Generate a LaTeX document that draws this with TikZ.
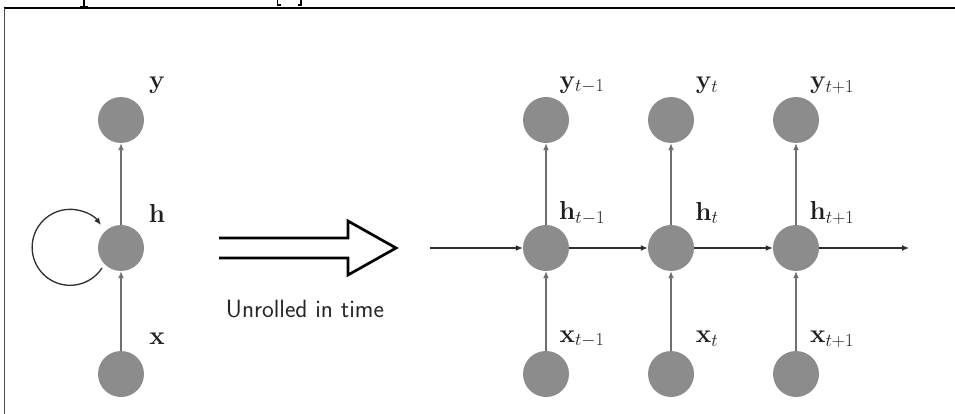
\RequirePackage{fix-cm}
\documentclass[tikz,border=0pt]{standalone}
\usetikzlibrary{arrows.meta}
\definecolor{unitgray}{RGB}{140,140,140}
\definecolor{linkgray}{RGB}{112,112,112}
\definecolor{flowdark}{RGB}{45,45,45}
\begin{document}
\begin{tikzpicture}[x=1pt,y=-1pt,
  unit/.style={circle,fill=unitgray,minimum size=46pt,inner sep=0pt},
  lbl/.style={font=\fontsize{26}{31}\selectfont,inner sep=0pt,text=black!88},
  upflow/.style={draw=linkgray,line width=2pt,-{Latex[length=7pt,width=6pt]}},
  timeflow/.style={draw=flowdark,line width=1.3pt,-{Latex[length=7pt,width=6pt]}},
  bigarrow/.style={draw=black,line width=2.7pt,line join=miter},
]
\useasboundingbox (0,0) rectangle (955,414);

% frame
\draw[line width=1.6pt] (3.8,8) -- (955,8);
\draw[line width=1.3pt,black!70] (4.5,8) -- (4.5,414);

% cut-off caption strokes above the frame
\draw[line width=1.4pt] (84,0) -- (84,6.5);
\draw[line width=1.2pt] (80,6.5) -- (88,6.5);
\draw[line width=1.4pt] (277.5,0) -- (277.5,5) -- (281,5);
\draw[line width=1.4pt] (301,0) -- (301,5) -- (297.5,5);

% folded network
\node[unit] (y0) at (121,120) {};
\node[unit] (h0) at (121,248) {};
\node[unit] (x0) at (121,374) {};
\node[lbl] at ([shift={(36,-35)}]y0.center) {$\mathbf{y}$};
\node[lbl] at ([shift={(36,-35)}]h0.center) {$\mathbf{h}$};
\node[lbl] at ([shift={(36,-35)}]x0.center) {$\mathbf{x}$};
\draw[upflow] (x0) -- (h0);
\draw[upflow] (h0) -- (y0);
\draw[timeflow] ([shift={(-19,20)}]h0.center)
  arc[start angle=-33,end angle=-324,radius=38pt];

% unrolling arrow
\draw[bigarrow] (219,238) -- (348,238) -- (348,221) -- (396,248)
  -- (348,275) -- (348,258) -- (219,258);
\node[font=\sffamily\fontsize{25}{29}\selectfont,text=black!85,inner sep=0pt]
  (unroll) at (305,309) {Unrolled in time};

% unrolled network
\foreach \c/\px/\sub in {1/546/{t-1},2/671/{t},3/796/{t+1}} {
  \node[unit] (y\c) at (\px,120) {};
  \node[unit] (h\c) at (\px,248) {};
  \node[unit] (x\c) at (\px,374) {};
  \node[lbl] at ([shift={(36,-35)}]y\c.center) {$\mathbf{y}_{\sub}$};
  \node[lbl] at ([shift={(36,-35)}]h\c.center) {$\mathbf{h}_{\sub}$};
  \node[lbl] at ([shift={(36,-35)}]x\c.center) {$\mathbf{x}_{\sub}$};
  \draw[upflow] (x\c) -- (h\c);
  \draw[upflow] (h\c) -- (y\c);
}
\coordinate (hin) at (430,248);
\coordinate (hout) at (909,248);
\draw[timeflow] (hin) -- (h1);
\draw[timeflow] (h1) -- (h2);
\draw[timeflow] (h2) -- (h3);
\draw[timeflow] (h3) -- (hout);
\end{tikzpicture}
\end{document}
